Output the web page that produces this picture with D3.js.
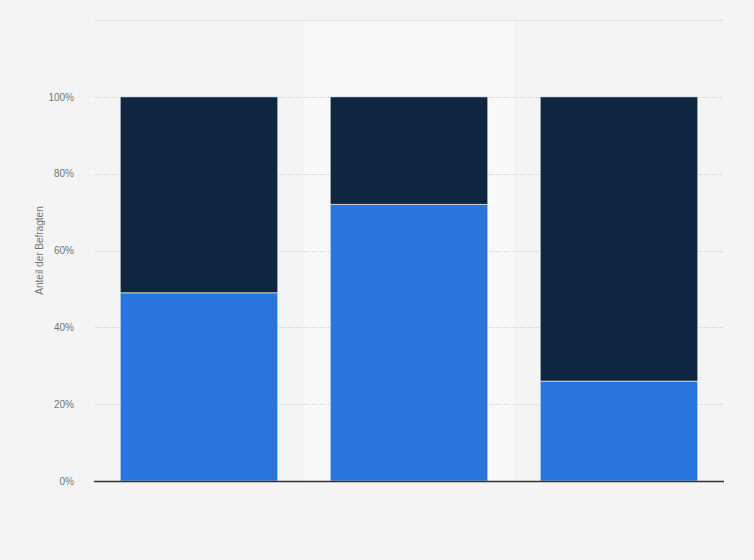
<!DOCTYPE html>
<html><head><meta charset="utf-8">
<script src="https://cdn.jsdelivr.net/npm/d3@7"></script>
<style>html,body{margin:0;padding:0;background:#f4f4f4;}svg{display:block;}</style>
</head><body>
<svg id="chart" width="754" height="560"></svg>
<script>
const categories = ["Gruppe 1", "Gruppe 2", "Gruppe 3"];
const seriesNames = ["Ja", "Nein"];
const valuesJa = [49, 72, 26];
const valuesNein = [51, 28, 74];
const yTicks = [0, 20, 40, 60, 80, 100, 120];
const yAxisTitle = "Anteil der Befragten";
const highlighted = "Gruppe 2";

const svg = d3.select("#chart");
const W = 754, H = 560;
const m = {left: 94, right: 30, top: 20, bottom: 79};
const iw = W - m.left - m.right, ih = H - m.top - m.bottom;
const FONT = "'Liberation Sans', Arial, sans-serif";

svg.append("rect").attr("width", W).attr("height", H).attr("fill", "#f4f4f4");

const x = d3.scaleBand().domain(categories).range([m.left, m.left + iw]).paddingInner(0.25).paddingOuter(0.125);
const xb = d3.scaleBand().domain(categories).range([m.left, m.left + iw]);
const y = d3.scaleLinear().domain([0, 120]).range([m.top + ih, m.top]);

// highlight band
svg.append("rect")
  .attr("x", xb(highlighted)).attr("width", xb.bandwidth())
  .attr("y", y(120)).attr("height", y(0) - y(120))
  .attr("fill", "#f9f9f9");

// grid
const grid = svg.append("g").attr("transform", `translate(${m.left},0)`)
  .call(d3.axisLeft(y).tickValues(yTicks).tickSize(-iw).tickFormat(""));
grid.select(".domain").remove();
grid.selectAll("line").attr("stroke", "#cfcfcf").attr("stroke-dasharray", "1,1").attr("shape-rendering", "crispEdges");

// tick labels
const yAx = svg.append("g").attr("transform", `translate(${m.left - 17},0)`)
  .call(d3.axisLeft(y).tickValues(yTicks.filter(t => t <= 100)).tickSize(0).tickFormat(d => d + "%"));
yAx.select(".domain").remove();
yAx.selectAll("text").attr("fill", "#747474").attr("font-family", FONT).attr("font-size", 10).attr("dx", 0);

// stacked data
const rows = categories.map((c, i) => ({cat: c, Ja: valuesJa[i], Nein: valuesNein[i]}));
const stack = d3.stack().keys(seriesNames)(rows);
const color = d3.scaleOrdinal().domain(seriesNames).range(["#2876dd", "#0f2640"]);

svg.append("g").selectAll("g").data(stack).join("g")
  .attr("fill", d => color(d.key))
  .selectAll("rect").data(d => d).join("rect")
  .attr("x", d => x(d.data.cat)).attr("width", x.bandwidth())
  .attr("y", d => y(d[1])).attr("height", d => y(d[0]) - y(d[1]))
  .attr("stroke", "rgba(255,255,255,0.6)").attr("stroke-width", 1);

// x axis line
svg.append("line").attr("x1", m.left).attr("x2", m.left + iw)
  .attr("y1", y(0) + 0.5).attr("y2", y(0) + 0.5)
  .attr("stroke", "#333").attr("stroke-width", 1.3);

// y axis title
svg.append("text")
  .attr("transform", `translate(43,${(y(0) + y(120)) / 2}) rotate(-90)`)
  .attr("text-anchor", "middle").attr("fill", "#747474")
  .attr("font-family", FONT).attr("font-size", 10)
  .text(yAxisTitle);
</script>
</body></html>
